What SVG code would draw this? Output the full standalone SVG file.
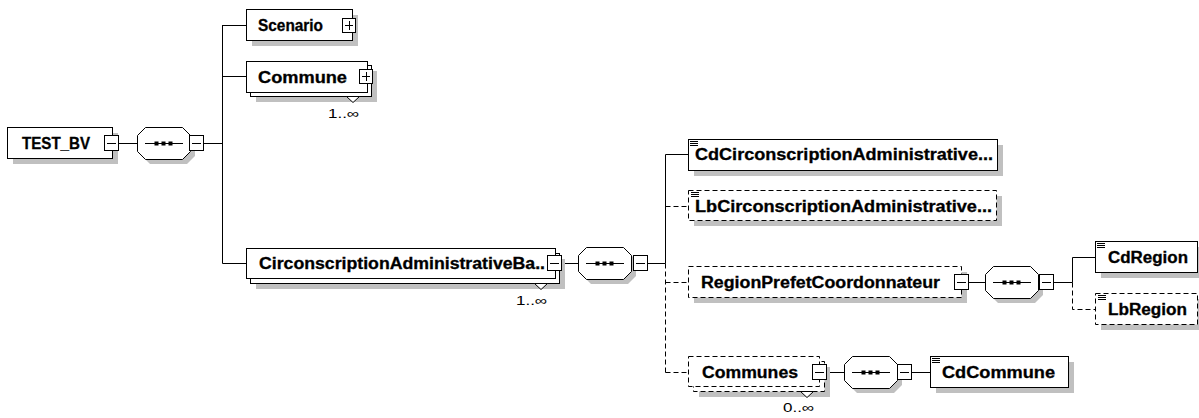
<svg xmlns="http://www.w3.org/2000/svg" xmlns:xlink="http://www.w3.org/1999/xlink" width="1199" height="418" viewBox="0 0 1199 418">
  <style>
    .box { fill: #ffffff; stroke: #000000; stroke-width: 1; }
    .opt { stroke-dasharray: 5 3; }
    .shadow { fill: #c0c0c0; stroke: none; }
    .line { fill: none; stroke: #000000; stroke-width: 1; }
    .dash { stroke-dasharray: 5 3; }
    .name { font-family: "Liberation Sans", Arial, sans-serif; font-weight: bold; font-size: 16px; fill: #000000; stroke: #000000; stroke-width: 0.3; }
    .occ { font-family: "Liberation Sans", Arial, sans-serif; font-size: 13px; fill: #000000; }
  </style>
  <defs>
    <!-- sequence compositor: octagon with three dots on a line -->
    <g id="seq">
      <path class="shadow" d="M13,5 H50 L58,13 V29 L50,37 H13 L5,29 V13 Z"/>
      <path class="box" d="M8.5,0.5 H45.5 L53.5,8.5 V24.5 L45.5,32.5 H8.5 L0.5,24.5 V8.5 Z"/>
      <path class="line" d="M8,16.5 H46"/>
      <rect x="17.5" y="14.5" width="4" height="4"/>
      <rect x="24.5" y="14.5" width="4" height="4"/>
      <rect x="31.5" y="14.5" width="4" height="4"/>
    </g>
    <!-- collapse button -->
    <g id="minus">
      <rect class="box" x="0.5" y="0.5" width="14" height="15"/>
      <path class="line" d="M3,8.5 H12"/>
    </g>
    <!-- expand button -->
    <g id="plus">
      <rect class="box" x="0.5" y="0.5" width="13" height="14"/>
      <path class="line" d="M3,7.5 H11 M7.5,3 V12"/>
    </g>
    <!-- simple content icon -->
    <path id="simple" class="line" d="M0,0.5 H8 M0,2.5 H8 M0,4.5 H8"/>
    <!-- multiplicity marker -->
    <path id="tri" class="box" d="M0.5,0.5 H13.5 L7,6.5 Z"/>
  </defs>

  <!-- connectors -->
  <g id="connectors">
    <path class="line" d="M119,143.5 H137"/>
    <path class="line" d="M204,143.5 H222.5 M222.5,25 V263.5 M222.5,25.5 H246 M222.5,76.5 H246 M222.5,263.5 H246"/>
    <path class="line" d="M562,263.5 H578"/>
    <path class="line" d="M647,263.5 H665.5 M665.5,154.5 V263.5 M665.5,154.5 H688"/>
    <path class="line dash" d="M665.5,263.5 V372.5 M665.5,206.5 H688 M665.5,282.5 H688 M665.5,372.5 H688"/>
    <path class="line" d="M969,282.5 H985"/>
    <path class="line" d="M1053,282.5 H1072.5 M1072.5,257.5 V282.5 M1072.5,257.5 H1095"/>
    <path class="line dash" d="M1072.5,282.5 V309.5 H1095"/>
    <path class="line" d="M826,372.5 H844"/>
    <path class="line" d="M911,372.5 H930"/>
  </g>

  <!-- root element -->
  <g id="TEST_BV">
    <rect class="shadow" x="13" y="133" width="105" height="31"/>
    <rect class="box" x="7.5" y="127.5" width="105" height="31"/>
    <text class="name" x="22" y="148.5" textLength="68" lengthAdjust="spacingAndGlyphs">TEST_BV</text>
    <use xlink:href="#minus" x="104" y="135"/>
  </g>

  <g id="seq-root">
    <use xlink:href="#seq" x="137" y="127"/>
    <use xlink:href="#minus" x="189" y="135"/>
  </g>

  <g id="Scenario">
    <rect class="shadow" x="252" y="15" width="106" height="31"/>
    <rect class="box" x="246.5" y="9.5" width="106" height="31"/>
    <text class="name" x="258" y="30.5" textLength="65" lengthAdjust="spacingAndGlyphs">Scenario</text>
    <use xlink:href="#plus" x="342" y="18"/>
  </g>

  <g id="Commune">
    <rect class="shadow" x="256" y="71" width="121" height="31"/>
    <rect class="box" x="250.5" y="65.5" width="121" height="31"/>
    <rect class="box" x="246.5" y="61.5" width="121" height="31"/>
    <text class="name" x="258" y="82.5" textLength="89" lengthAdjust="spacingAndGlyphs">Commune</text>
    <use xlink:href="#plus" x="359" y="69"/>
    <use xlink:href="#tri" x="346" y="96"/>
    <text class="occ" x="328" y="118" textLength="31" lengthAdjust="spacingAndGlyphs">1..∞</text>
  </g>

  <g id="CirconscriptionAdministrativeBase">
    <rect class="shadow" x="256" y="259" width="309" height="30"/>
    <rect class="box" x="250.5" y="253.5" width="309" height="30"/>
    <rect class="box" x="246.5" y="248.5" width="309" height="30"/>
    <text class="name" x="259" y="269" textLength="286" lengthAdjust="spacingAndGlyphs">CirconscriptionAdministrativeBa..</text>
    <use xlink:href="#minus" x="547" y="255"/>
    <use xlink:href="#tri" x="534" y="283"/>
    <text class="occ" x="516" y="305" textLength="31" lengthAdjust="spacingAndGlyphs">1..∞</text>
  </g>

  <g id="seq-circ">
    <use xlink:href="#seq" x="578" y="247"/>
    <use xlink:href="#minus" x="633" y="255"/>
  </g>

  <g id="CdCirconscriptionAdministrative">
    <rect class="shadow" x="694" y="145" width="309" height="31"/>
    <rect class="box" x="688.5" y="139.5" width="309" height="31"/>
    <use xlink:href="#simple" x="690" y="141"/>
    <text class="name" x="695" y="160" textLength="298" lengthAdjust="spacingAndGlyphs">CdCirconscriptionAdministrative...</text>
  </g>

  <g id="LbCirconscriptionAdministrative">
    <rect class="shadow" x="694" y="196" width="308" height="30"/>
    <rect class="box opt" x="688.5" y="190.5" width="308" height="30"/>
    <use xlink:href="#simple" x="691" y="192"/>
    <text class="name" x="695" y="211.5" textLength="297" lengthAdjust="spacingAndGlyphs">LbCirconscriptionAdministrative...</text>
  </g>

  <g id="RegionPrefetCoordonnateur">
    <rect class="shadow" x="694" y="272" width="273" height="31"/>
    <rect class="box opt" x="688.5" y="266.5" width="273" height="31"/>
    <text class="name" x="701" y="288" textLength="239" lengthAdjust="spacingAndGlyphs">RegionPrefetCoordonnateur</text>
    <use xlink:href="#minus" x="954" y="274"/>
  </g>

  <g id="seq-region">
    <use xlink:href="#seq" x="985" y="266"/>
    <use xlink:href="#minus" x="1039" y="274"/>
  </g>

  <g id="CdRegion">
    <rect class="shadow" x="1101" y="247" width="102" height="31"/>
    <rect class="box" x="1095.5" y="241.5" width="102" height="31"/>
    <use xlink:href="#simple" x="1097" y="243"/>
    <text class="name" x="1108" y="263" textLength="80" lengthAdjust="spacingAndGlyphs">CdRegion</text>
  </g>

  <g id="LbRegion">
    <rect class="shadow" x="1101" y="299" width="102" height="31"/>
    <rect class="box opt" x="1095.5" y="293.5" width="102" height="31"/>
    <use xlink:href="#simple" x="1098" y="295"/>
    <text class="name" x="1108" y="315" textLength="79" lengthAdjust="spacingAndGlyphs">LbRegion</text>
  </g>

  <g id="Communes">
    <rect class="shadow" x="699" y="367" width="131" height="30"/>
    <rect class="box opt" x="693.5" y="361.5" width="131" height="30"/>
    <rect class="box opt" x="688.5" y="356.5" width="131" height="30"/>
    <text class="name" x="702" y="378" textLength="96" lengthAdjust="spacingAndGlyphs">Communes</text>
    <use xlink:href="#minus" x="812" y="364"/>
    <use xlink:href="#tri" x="800" y="391"/>
    <text class="occ" x="783" y="412" textLength="31" lengthAdjust="spacingAndGlyphs">0..∞</text>
  </g>

  <g id="seq-communes">
    <use xlink:href="#seq" x="844" y="356"/>
    <use xlink:href="#minus" x="897" y="364"/>
  </g>

  <g id="CdCommune">
    <rect class="shadow" x="936" y="362" width="138" height="31"/>
    <rect class="box" x="930.5" y="356.5" width="138" height="31"/>
    <use xlink:href="#simple" x="932" y="358"/>
    <text class="name" x="942" y="378" textLength="113" lengthAdjust="spacingAndGlyphs">CdCommune</text>
  </g>
</svg>
